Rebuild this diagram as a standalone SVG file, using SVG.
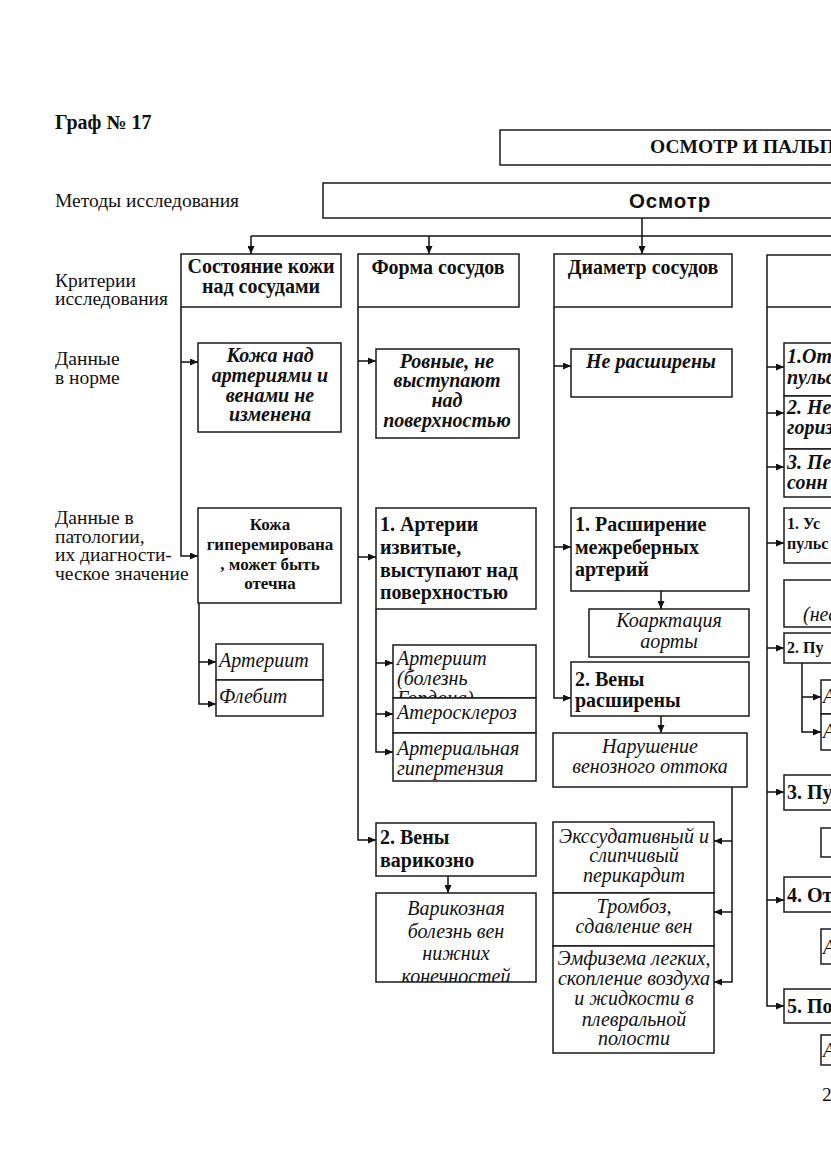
<svg xmlns="http://www.w3.org/2000/svg" width="831" height="1174" viewBox="0 0 831 1174">
<style>
text{font-family:"Liberation Serif","Times New Roman",serif;font-size:20px;fill:#111}
.l{font-size:19.5px}
.b{font-weight:bold}
.i{font-style:italic}
.c{text-anchor:middle}
.s17{font-size:17px}
.s16{font-size:16px}
.box{fill:#fff;stroke:#1a1a1a;stroke-width:1.5}
.con path{fill:none;stroke:#111;stroke-width:1.5}
.ar{marker-end:url(#ah)}
.sans{font-family:"Liberation Sans",Arial,sans-serif;font-weight:900;font-size:20.5px;letter-spacing:0.9px}
</style>
<defs>
<marker id="ah" markerUnits="userSpaceOnUse" markerWidth="8" markerHeight="7" refX="8" refY="3.5" orient="auto"><path d="M0,0 L8,3.5 L0,7 z" fill="#111"/></marker>
<clipPath id="cv"><rect x="376" y="893" width="160" height="89"/></clipPath>
<clipPath id="cg"><rect x="393" y="645" width="143" height="53"/></clipPath>
</defs>
<rect width="831" height="1174" fill="#fff"/>

<g id="labels">
<text class="b" x="55" y="129">Граф № 17</text>
<text class="l" x="55" y="207">Методы исследования</text>
<text class="l" x="55" y="287">Критерии</text>
<text class="l" x="55" y="305">исследования</text>
<text class="l" x="55" y="365">Данные</text>
<text class="l" x="55" y="384">в норме</text>
<text class="l" x="55" y="524">Данные в</text>
<text class="l" x="55" y="543">патологии,</text>
<text class="l" x="55" y="561">их диагности-</text>
<text class="l" x="55" y="580">ческое значение</text>
<text class="l" x="822" y="1101">2</text>
</g>

<g class="con" id="connectors">
<path d="M251 236 H840"/>
<path class="ar" d="M642 218 V254"/>
<path class="ar" d="M251 236 V254"/>
<path class="ar" d="M429 236 V254"/>
<path class="ar" d="M181 307 V556 H198"/>
<path class="ar" d="M181 362 H198"/>
<path class="ar" d="M199 603 V704 H216"/>
<path class="ar" d="M199 662 H216"/>
<path class="ar" d="M358 307 V840 H376"/>
<path class="ar" d="M358 361 H376"/>
<path class="ar" d="M358 557 H376"/>
<path class="ar" d="M376 609 V752 H393"/>
<path class="ar" d="M376 663 H393"/>
<path class="ar" d="M376 714 H393"/>
<path class="ar" d="M448 876 V893"/>
<path class="ar" d="M554 307 V698 H571"/>
<path class="ar" d="M554 366 H571"/>
<path class="ar" d="M554 547 H571"/>
<path class="ar" d="M661 591 V609"/>
<path class="ar" d="M661 716 V733"/>
<path class="ar" d="M732 787 V982 H714"/>
<path class="ar" d="M732 841 H714"/>
<path class="ar" d="M732 912 H714"/>
<path class="ar" d="M767 307 V1006 H784"/>
<path class="ar" d="M767 367 H784"/>
<path class="ar" d="M767 413 H784"/>
<path class="ar" d="M767 467 H784"/>
<path class="ar" d="M767 543 H784"/>
<path class="ar" d="M767 648 H784"/>
<path class="ar" d="M767 792 H784"/>
<path class="ar" d="M767 900 H784"/>
<path class="ar" d="M802 663 V732 H821"/>
<path class="ar" d="M802 697 H821"/>
</g>

<g id="top"><rect class="box" x="500" y="130" width="400" height="35"/><text class="b l" x="650" y="153">ОСМОТР И ПАЛЬП</text></g>
<g id="osmotr"><rect class="box" x="323" y="183" width="600" height="35"/><text class="sans c" x="670" y="208">Осмотр</text></g>

<g id="c1h"><rect class="box" x="181" y="254" width="160" height="53"/><text class="b c" x="261" y="273">Состояние кожи</text><text class="b c" x="261" y="293">над сосудами</text></g>
<g id="c2h"><rect class="box" x="358" y="254" width="161" height="53"/><text class="b c" x="438" y="274">Форма сосудов</text></g>
<g id="c3h"><rect class="box" x="554" y="254" width="178" height="53"/><text class="b c" x="643" y="274">Диаметр сосудов</text></g>
<g id="c4h"><rect class="box" x="767" y="255" width="100" height="52"/></g>

<g id="c1n"><rect class="box" x="198" y="343" width="143" height="89"/>
<text class="b i c" x="270" y="362">Кожа над</text><text class="b i c" x="270" y="382">артериями и</text><text class="b i c" x="270" y="402">венами не</text><text class="b i c" x="270" y="421">изменена</text></g>
<g id="c1p"><rect class="box" x="198" y="508" width="143" height="95"/>
<text class="b c s17" x="270" y="530">Кожа</text><text class="b c s17" x="270" y="550">гиперемирована</text><text class="b c s17" x="270" y="570">, может быть</text><text class="b c s17" x="270" y="589">отечна</text></g>
<g id="c1a"><rect class="box" x="216" y="644" width="107" height="36"/><text class="i" x="219" y="667">Артериит</text></g>
<g id="c1f"><rect class="box" x="216" y="680" width="107" height="36"/><text class="i" x="219" y="703">Флебит</text></g>

<g id="c2n"><rect class="box" x="376" y="349" width="143" height="89"/>
<text class="b i c" x="447" y="368">Ровные, не</text><text class="b i c" x="447" y="387">выступают</text><text class="b i c" x="447" y="407">над</text><text class="b i c" x="447" y="427">поверхностью</text></g>
<g id="c2p"><rect class="box" x="376" y="508" width="160" height="101"/>
<text class="b" x="380" y="531">1. Артерии</text><text class="b" x="380" y="554">извитые,</text><text class="b" x="380" y="577">выступают над</text><text class="b" x="380" y="599">поверхностью</text></g>
<g id="c2a1"><rect class="box" x="393" y="645" width="143" height="53"/>
<g clip-path="url(#cg)"><text class="i" x="397" y="665">Артериит</text><text class="i" x="397" y="685">(болезнь</text><text class="i" x="397" y="705">Гордона)</text></g></g>
<g id="c2a2"><rect class="box" x="393" y="698" width="143" height="35"/><text class="i" x="397" y="719">Атеросклероз</text></g>
<g id="c2a3"><rect class="box" x="393" y="733" width="143" height="48"/><text class="i" x="397" y="755">Артериальная</text><text class="i" x="397" y="775">гипертензия</text></g>
<g id="c2v"><rect class="box" x="376" y="823" width="160" height="53"/><text class="b" x="380" y="844">2. Вены</text><text class="b" x="380" y="867">варикозно</text></g>
<g id="c2vv"><rect class="box" x="376" y="893" width="160" height="89"/>
<g clip-path="url(#cv)"><text class="i c" x="456" y="915">Варикозная</text><text class="i c" x="456" y="938">болезнь вен</text><text class="i c" x="456" y="960">нижних</text><text class="i c" x="456" y="983">конечностей</text></g></g>

<g id="c3n"><rect class="box" x="571" y="349" width="161" height="48"/><text class="b i c" x="651" y="368">Не расширены</text></g>
<g id="c3p"><rect class="box" x="571" y="508" width="178" height="83"/>
<text class="b" x="575" y="531">1. Расширение</text><text class="b" x="575" y="554">межреберных</text><text class="b" x="575" y="576">артерий</text></g>
<g id="c3k"><rect class="box" x="589" y="609" width="160" height="48"/><text class="i c" x="669" y="627">Коарктация</text><text class="i c" x="669" y="648">аорты</text></g>
<g id="c3v"><rect class="box" x="571" y="662" width="178" height="54"/><text class="b" x="575" y="686">2. Вены</text><text class="b" x="575" y="707">расширены</text></g>
<g id="c3nv"><rect class="box" x="553" y="733" width="194" height="54"/><text class="i c" x="650" y="753">Нарушение</text><text class="i c" x="650" y="773">венозного оттока</text></g>
<g id="c3e"><rect class="box" x="553" y="822" width="161" height="71"/>
<text class="i c" x="634" y="843">Экссудативный и</text><text class="i c" x="634" y="862">слипчивый</text><text class="i c" x="634" y="882">перикардит</text></g>
<g id="c3t"><rect class="box" x="553" y="893" width="161" height="53"/><text class="i c" x="634" y="913">Тромбоз,</text><text class="i c" x="634" y="933">сдавление вен</text></g>
<g id="c3em"><rect class="box" x="553" y="946" width="161" height="107"/>
<text class="i c" x="634" y="965">Эмфизема легких,</text><text class="i c" x="634" y="985">скопление воздуха</text><text class="i c" x="634" y="1005">и жидкости в</text><text class="i c" x="634" y="1026">плевральной</text><text class="i c" x="634" y="1045">полости</text></g>

<g id="c4a"><rect class="box" x="784" y="343" width="100" height="53"/><text class="b i" x="787" y="363">1.От</text><text class="b i" x="787" y="384">пульс</text></g>
<g id="c4b"><rect class="box" x="784" y="396" width="100" height="53"/><text class="b i" x="787" y="414">2. Не</text><text class="b i" x="787" y="434">гориз</text></g>
<g id="c4c"><rect class="box" x="784" y="449" width="100" height="48"/><text class="b i" x="787" y="469">3. Пе</text><text class="b i" x="787" y="489">сонн</text></g>
<g id="c4d"><rect class="box" x="784" y="508" width="100" height="55"/><text class="b s16" x="787" y="529">1. Ус</text><text class="b s16" x="787" y="549">пульс</text></g>
<g id="c4e"><rect class="box" x="784" y="580" width="100" height="47"/><text class="i" x="803" y="621">(нес</text></g>
<g id="c4f"><rect class="box" x="784" y="633" width="100" height="30"/><text class="b s16" x="787" y="653">2. Пу</text></g>
<g id="c4f1"><rect class="box" x="821" y="680" width="60" height="34"/><text class="i" x="823" y="703">А</text></g>
<g id="c4f2"><rect class="box" x="821" y="714" width="60" height="36"/><text class="i" x="823" y="738">А</text></g>
<g id="c4g"><rect class="box" x="784" y="775" width="100" height="35"/><text class="b" x="787" y="799">3. Пу</text></g>
<g id="c4g1"><rect class="box" x="821" y="828" width="60" height="29"/></g>
<g id="c4hh"><rect class="box" x="784" y="877" width="100" height="35"/><text class="b" x="787" y="902">4. От</text></g>
<g id="c4h1"><rect class="box" x="821" y="929" width="60" height="35"/><text class="i" x="823" y="954">А</text></g>
<g id="c4i"><rect class="box" x="784" y="989" width="100" height="34"/><text class="b" x="787" y="1013">5. По</text></g>
<g id="c4i1"><rect class="box" x="821" y="1035" width="60" height="30"/><text class="i" x="823" y="1057">А</text></g>
</svg>
